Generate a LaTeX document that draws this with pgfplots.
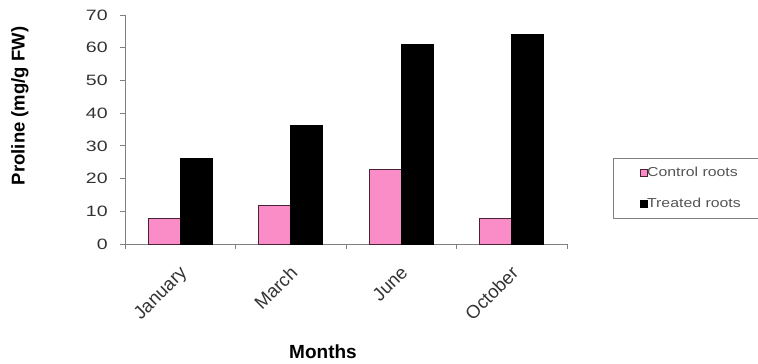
\documentclass[border=0pt]{standalone}
\usepackage{pgfplots}
\pgfplotsset{compat=1.18}
\usepackage{fontspec}
\setmainfont{Liberation Sans}
\definecolor{ctrlpink}{HTML}{FA8CC8}
\definecolor{ctrledge}{HTML}{4A2236}
\definecolor{axgray}{HTML}{808080}
\definecolor{txtgray}{HTML}{555555}
\newcommand{\wide}[1]{\scalebox{1.22}[1]{#1}}
\begin{document}
\begin{tikzpicture}
\path[use as bounding box] (-125pt,-120pt) rectangle (633pt,244pt);
\begin{axis}[
  at={(0,0)}, anchor=south west,
  scale only axis,
  width=442pt, height=229pt,
  ybar=0pt, bar width=32pt,
  xmin=-0.5, xmax=3.5,
  ymin=0, ymax=70,
  axis lines*=left,
  axis line style={axgray, line width=0.8pt},
  xtick={0,1,2,3},
  xticklabels={January,March,June,October},
  major x tick style={draw=none},
  minor xtick={-0.5,0.5,1.5,2.5,3.5},
  minor x tick style={axgray, line width=0.8pt},
  minor tick length=5pt,
  ytick={0,10,...,70},
  major y tick style={axgray, line width=0.8pt},
  major tick length=5pt,
  tick align=outside,
  /pgf/number format/assume math mode=true,
  yticklabel style={font=\fontsize{15}{15}\selectfont, text=black!80, xscale=1.3, xshift=-6pt},
  xticklabel style={font=\fontsize{18.5}{18.5}\selectfont, text=black!80, rotate=45, anchor=north east, xshift=-9pt, yshift=-6.6pt},
  ylabel={\textbf{Proline (mg/g FW)}},
  ylabel style={font=\fontsize{18.5}{18.5}\selectfont, at={(axis description cs:-0.2376,0.603)}, anchor=center, rotate=0},
  xlabel={\textbf{Months}},
  xlabel style={font=\fontsize{19}{19}\selectfont, at={(axis description cs:0.448,-0.4716)}, anchor=center},
  legend style={at={(1.104,0.376)}, anchor=north west, draw=axgray, line width=0.6pt,
    font=\fontsize{13}{13}\selectfont, text=txtgray,
    inner xsep=20pt, inner ysep=7pt, row sep=16pt,
    legend cell align=left},
  legend image code/.code={\path (0pt,0pt); \draw[#1, line width=0.8pt] (7pt,-3.5pt) rectangle (14pt,3.5pt);},
]
% control roots
\addplot[fill=ctrlpink, draw=ctrledge, line width=0.8pt] coordinates {(0,7.8) (1,11.9) (2,22.8) (3,7.7)};
% treated roots
\addplot[fill=black, draw=black, line width=0.8pt] coordinates {(0,26.2) (1,36.3) (2,61.0) (3,64.0)};
\legend{\hspace{-3pt}\wide{Control roots}, \hspace{-3pt}\wide{Treated roots}}
\end{axis}
\end{tikzpicture}
\end{document}
